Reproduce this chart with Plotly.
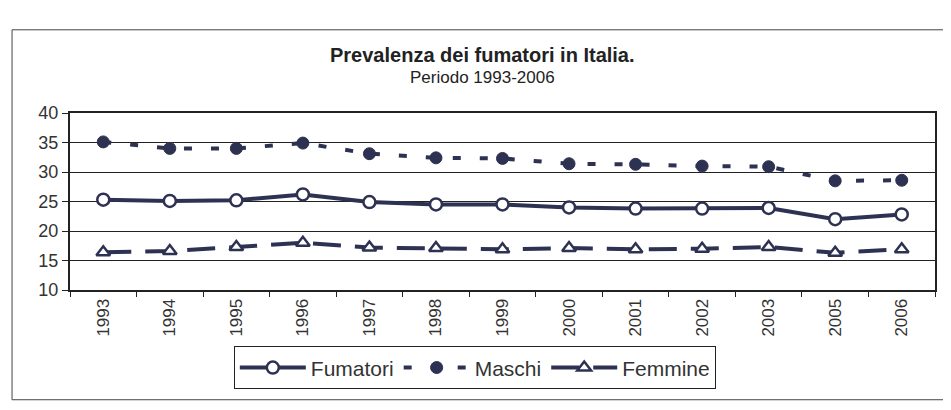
import plotly.graph_objects as go

anni = ["1993", "1994", "1995", "1996", "1997", "1998", "1999",
        "2000", "2001", "2002", "2003", "2005", "2006"]
fumatori = [25.3, 25.1, 25.2, 26.2, 24.9, 24.5, 24.5, 24.0, 23.8, 23.8, 23.9, 22.0, 22.8]
maschi = [35.1, 34.0, 34.0, 34.9, 33.1, 32.4, 32.3, 31.4, 31.3, 31.0, 30.9, 28.5, 28.6]
femmine = [16.4, 16.6, 17.3, 18.0, 17.2, 17.1, 16.9, 17.1, 16.9, 17.0, 17.3, 16.3, 16.9]

col = "#2e3252"
fnt = "Liberation Sans, Arial, sans-serif"

fig = go.Figure()
fig.add_trace(go.Scatter(
    x=anni, y=fumatori, name="Fumatori", mode="lines+markers",
    line=dict(color=col, width=4),
    marker=dict(symbol="circle", size=12, color="white", line=dict(color=col, width=2.5)),
))
fig.add_trace(go.Scatter(
    x=anni, y=maschi, name="Maschi", mode="lines+markers",
    line=dict(color=col, width=4, dash="8px,19px"),
    marker=dict(symbol="circle", size=12, color=col, line=dict(color=col, width=1)),
))
fig.add_trace(go.Scatter(
    x=anni, y=femmine, name="Femmine", mode="lines+markers",
    line=dict(color=col, width=4, dash="28px,14px"),
    marker=dict(symbol="triangle-up", size=12, color="white", line=dict(color=col, width=2.5)),
))

fig.update_layout(
    width=943, height=402,
    margin=dict(l=62, r=16, t=105, b=120),
    paper_bgcolor="white", plot_bgcolor="white",
    font=dict(family=fnt, color="#222", size=15),
    showlegend=True,
    legend=dict(
        orientation="h", x=0.468, xanchor="center", y=-0.44, yanchor="middle",
        bordercolor="#222", borderwidth=1, font=dict(size=21, color="#333"),
        tracegroupgap=0, bgcolor="white", itemwidth=66,
    ),
    annotations=[
        dict(text="<b>Prevalenza dei fumatori in Italia.</b>", x=0.477, y=1.328,
             xref="paper", yref="paper", showarrow=False, xanchor="center",
             yanchor="middle", font=dict(size=20, color="#222", family=fnt)),
        dict(text="Periodo 1993-2006", x=0.477, y=1.203,
             xref="paper", yref="paper", showarrow=False, xanchor="center",
             yanchor="middle", font=dict(size=17, color="#222", family=fnt)),
    ],
    shapes=[
        dict(type="rect", xref="paper", yref="paper", x0=-0.067, x1=1.03,
             y0=-0.62, y1=1.47, line=dict(color="#444", width=1)),
    ],
)
fig.update_xaxes(
    type="category", range=[-0.5, 12.5], tickangle=-90, showgrid=False,
    showline=True, linecolor="#222", linewidth=2, mirror=True,
    ticks="outside", tickson="boundaries", ticklen=5, tickcolor="#222",
    tickfont=dict(size=17, color="#333"),
)
fig.update_yaxes(
    range=[10, 40], dtick=5, showgrid=True, gridcolor="#222", gridwidth=1,
    showline=True, linecolor="#222", linewidth=2, mirror=True,
    ticks="outside", ticklen=6, tickcolor="#222", zeroline=False,
    tickfont=dict(size=18, color="#333"),
)

fig.write_html("out.html")
